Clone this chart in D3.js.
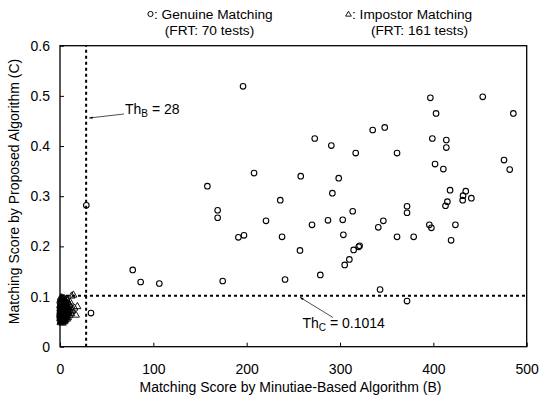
<!DOCTYPE html>
<html><head><meta charset="utf-8">
<script src="https://cdn.jsdelivr.net/npm/d3@7"></script>
<style>body{margin:0;background:#fff}svg{display:block}text{font-family:"Liberation Sans",Arial,sans-serif;fill:#000}</style>
</head><body><svg id="c" width="541" height="401"></svg>
<script>
const xTicks = [0,100,200,300,400,500];
const yTicks = [0,0.1,0.2,0.3,0.4,0.5,0.6];
const yTickLabels = ["0","0.1","0.2","0.3","0.4","0.5","0.6"];
const thB = 28;
const thC = 0.1014;
const genuine = [
[28.2,0.282],[33.2,0.067],[77.9,0.153],[86.4,0.129],[106.4,0.126],[157.9,0.320],[168.9,0.272],[168.9,0.257],[174.3,0.131],[191.1,0.218],
[196.1,0.519],[197.1,0.222],[207.9,0.346],[220.7,0.251],[236,0.292],[237.9,0.219],[241.1,0.134],[257.1,0.192],[257.9,0.340],[270,0.243],
[272.9,0.415],[278.9,0.143],[287.1,0.252],[290.7,0.401],[291.8,0.306],[298.6,0.336],[302.9,0.253],[303.6,0.223],[305,0.163],[310,0.174],
[313.6,0.270],[314.6,0.193],[316.8,0.386],[320,0.199],[321,0.201],[335,0.432],[341,0.238],[342.9,0.114],[346.4,0.251],[347.9,0.437],
[361.1,0.386],[361.1,0.219],[371.8,0.280],[371.8,0.267],[371.8,0.091],[378.9,0.219],[395.7,0.243],[396.8,0.496],[397.9,0.237],[398.9,0.415],
[401.8,0.364],[402.9,0.465],[410.7,0.354],[413,0.281],[413.9,0.412],[413.9,0.397],[415,0.289],[417.9,0.312],[419,0.212],[423.6,0.243],
[431.4,0.292],[431.8,0.301],[434.7,0.310],[440.7,0.296],[452.9,0.498],[475.7,0.372],[481.8,0.353],[485.7,0.465]
];
const impostor = [
[0.5,0.062],[1.2,0.071],[2.0,0.058],[3.1,0.066],[1.8,0.080],[4.2,0.075],[0.9,0.053],[2.6,0.090],[5.0,0.064],[3.7,0.057],
[1.4,0.068],[6.1,0.072],[2.2,0.049],[0.7,0.085],[4.8,0.083],[3.3,0.061],[1.1,0.077],[5.6,0.059],[2.9,0.074],[7.2,0.066],
[0.3,0.070],[1.6,0.063],[3.9,0.088],[2.4,0.052],[6.5,0.081],[4.4,0.069],[0.8,0.058],[5.3,0.094],[1.9,0.066],[3.0,0.079],
[8.1,0.071],[2.7,0.060],[0.4,0.076],[4.6,0.055],[1.3,0.093],[6.8,0.062],[3.5,0.072],[2.1,0.084],[5.9,0.068],[0.6,0.048],
[7.6,0.078],[1.7,0.056],[4.0,0.064],[2.8,0.097],[3.4,0.069],[0.2,0.081],[6.3,0.057],[1.5,0.073],[5.1,0.086],[9.0,0.074],
[2.3,0.065],[3.8,0.051],[0.9,0.089],[4.9,0.077],[1.0,0.060],[7.9,0.065],[2.5,0.082],[6.0,0.091],[3.2,0.054],[0.5,0.067],
[10.2,0.083],[1.8,0.070],[4.3,0.096],[2.0,0.059],[5.5,0.079],[0.7,0.074],[3.6,0.063],[8.6,0.058],[1.2,0.087],[6.6,0.070],
[2.9,0.047],[4.1,0.068],[0.3,0.056],[11.5,0.078],[1.4,0.065],[5.8,0.061],[3.0,0.092],[2.2,0.076],[7.3,0.086],[0.8,0.072],
[4.7,0.050],[1.6,0.081],[9.4,0.067],[2.6,0.068],[6.2,0.074],[3.3,0.085],[0.4,0.061],[5.2,0.071],[12.4,0.101],[1.9,0.055],
[3.9,0.076],[2.4,0.063],[8.3,0.080],[0.6,0.094],[4.5,0.060],[1.1,0.066],[6.9,0.095],[3.1,0.073],[2.0,0.086],[13.0,0.071],
[0.9,0.078],[5.4,0.066],[2.7,0.057],[4.0,0.083],[1.5,0.051],[7.0,0.060],[3.5,0.067],[0.2,0.064],[10.8,0.089],[2.3,0.079],
[6.4,0.064],[1.3,0.059],[4.4,0.090],[2.8,0.070],[15.4,0.077],[0.5,0.083],[5.7,0.053],[3.7,0.081],[1.7,0.062],[9.7,0.062],
[2.1,0.072],[4.8,0.065],[0.7,0.068],[7.7,0.092],[3.4,0.058],[1.0,0.098],[6.1,0.068],[2.5,0.075],[17.0,0.063],[5.0,0.073],
[0.4,0.066],[3.2,0.087],[1.8,0.057],[8.8,0.069],[4.2,0.054],[2.6,0.080],[0.8,0.060],[6.7,0.078],[14.3,0.103],[1.2,0.075],
[3.6,0.069],[5.3,0.082],[2.2,0.091],[0.6,0.057],[11.0,0.072],[4.6,0.071],[1.4,0.084],[7.5,0.055],[3.0,0.064],[18.6,0.080],
[2.4,0.070],[0.3,0.091],[5.9,0.076],[1.6,0.067],[4.1,0.058],[9.9,0.084],[2.8,0.062],[0.9,0.050],[6.3,0.088],[3.8,0.095],[12.0,0.066]
];

const svg = d3.select("#c");
const L = 60, R = 526.7, T = 45.7, B = 346.7;
const x = d3.scaleLinear().domain([0,500]).range([L,R]);
const y = d3.scaleLinear().domain([0,0.6]).range([B,T]);

// axes
const xa = svg.append("g").attr("transform",`translate(0,${B})`)
  .call(d3.axisBottom(x).tickValues(xTicks).tickSizeInner(-4).tickSizeOuter(0).tickPadding(17));
const ya = svg.append("g").attr("transform",`translate(${L},0)`)
  .call(d3.axisLeft(y).tickValues(yTicks).tickFormat((d,i)=>yTickLabels[i]).tickSizeInner(-4).tickSizeOuter(0).tickPadding(10));
[xa,ya].forEach(g=>{
  g.select(".domain").remove();
  g.selectAll("line").attr("stroke","#000").attr("stroke-width",1);
  g.selectAll("text").attr("font-size",14).attr("font-family","Liberation Sans, Arial, sans-serif").attr("fill","#000");
});

// threshold lines
svg.append("line").attr("x1",x(thB)).attr("x2",x(thB)).attr("y1",y(0)).attr("y2",y(0.6))
  .attr("stroke","#000").attr("stroke-width",2).attr("stroke-dasharray","3,3");
svg.append("line").attr("x1",x(0)).attr("x2",x(500)).attr("y1",y(thC)).attr("y2",y(thC))
  .attr("stroke","#000").attr("stroke-width",2).attr("stroke-dasharray","3,3");

// frame
svg.append("rect").attr("x",L).attr("y",T).attr("width",R-L).attr("height",B-T)
  .attr("fill","none").attr("stroke","#000").attr("stroke-width",1.3);

// impostor triangles
const tri = d3.symbol().type(d3.symbolTriangle).size(22);
svg.append("g").selectAll("path").data(impostor).join("path")
  .attr("d",tri).attr("transform",d=>`translate(${x(d[0])},${y(d[1])})`)
  .attr("fill","none").attr("stroke","#000").attr("stroke-width",0.9);

// genuine circles
svg.append("g").selectAll("circle").data(genuine).join("circle")
  .attr("cx",d=>x(d[0])).attr("cy",d=>y(d[1])).attr("r",2.8)
  .attr("fill","none").attr("stroke","#000").attr("stroke-width",1.1);

// arrows
svg.append("defs").append("marker").attr("id","ah").attr("viewBox","0 0 10 10")
  .attr("refX",10).attr("refY",5).attr("markerWidth",7).attr("markerHeight",5).attr("orient","auto")
  .append("path").attr("d","M0,1.5L10,5L0,8.5Z").attr("fill","#000");
svg.append("line").attr("x1",124).attr("y1",114).attr("x2",x(thB)+3).attr("y2",118)
  .attr("stroke","#000").attr("stroke-width",0.7).attr("marker-end","url(#ah)");
svg.append("line").attr("x1",333).attr("y1",317.5).attr("x2",300).attr("y2",y(thC)+1.5)
  .attr("stroke","#000").attr("stroke-width",0.7).attr("marker-end","url(#ah)");

// annotation text
const tb = svg.append("text").attr("x",125).attr("y",114).attr("font-size",14);
tb.append("tspan").text("Th");
tb.append("tspan").attr("font-size",10).attr("dy",3).text("B");
tb.append("tspan").attr("dy",-3).text(" = 28");
const tc = svg.append("text").attr("x",302.5).attr("y",327.5).attr("font-size",14);
tc.append("tspan").text("Th");
tc.append("tspan").attr("font-size",10).attr("dy",3).text("C");
tc.append("tspan").attr("dy",-3).text(" = 0.1014");

// axis titles
svg.append("text").attr("x",290.5).attr("y",392).attr("text-anchor","middle").attr("font-size",14)
  .text("Matching Score by Minutiae-Based Algorithm (B)");
svg.append("text").attr("transform","translate(19,191.5) rotate(-90)").attr("text-anchor","middle").attr("font-size",14)
  .text("Matching Score by Proposed Algorithm (C)");

// legend
svg.append("circle").attr("cx",150.5).attr("cy",14).attr("r",2.6).attr("fill","none").attr("stroke","#000").attr("stroke-width",1);
svg.append("text").attr("x",154).attr("y",19).attr("font-size",13.7).text(": Genuine Matching");
svg.append("text").attr("x",209.5).attr("y",34.5).attr("text-anchor","middle").attr("font-size",13.7).text("(FRT: 70 tests)");
svg.append("path").attr("d",d3.symbol().type(d3.symbolTriangle).size(14)).attr("transform","translate(348.5,14.5)")
  .attr("fill","none").attr("stroke","#000").attr("stroke-width",0.9);
svg.append("text").attr("x",352).attr("y",19).attr("font-size",13.7).text(": Impostor Matching");
svg.append("text").attr("x",419.5).attr("y",34.5).attr("text-anchor","middle").attr("font-size",13.7).text("(FRT: 161 tests)");
</script></body></html>
